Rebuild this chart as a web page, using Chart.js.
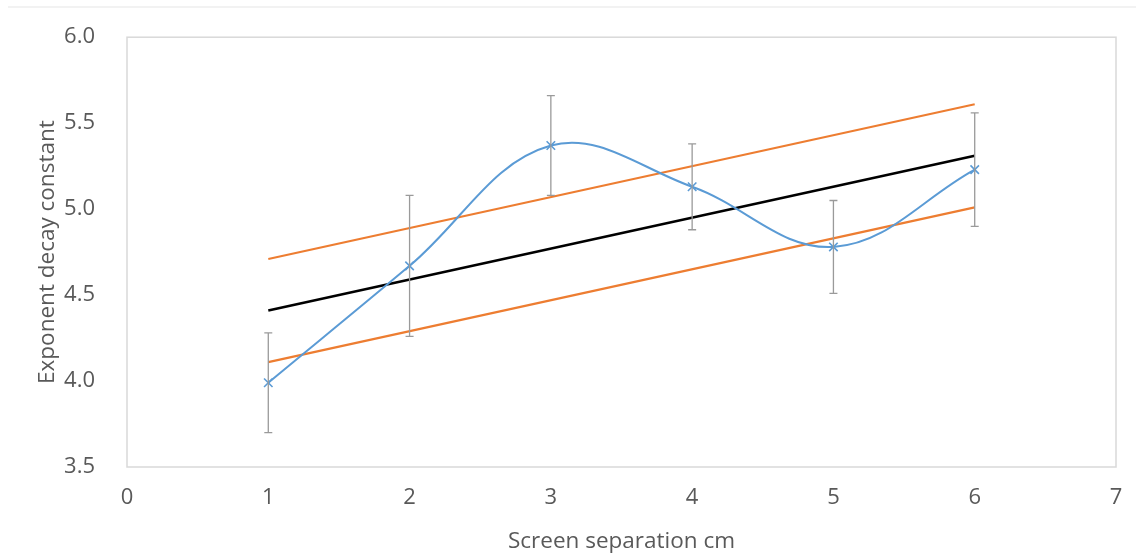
<!DOCTYPE html>
<html>
<head>
<meta charset="utf-8">
<script src="https://cdn.jsdelivr.net/npm/chart.js@4/dist/chart.umd.min.js"></script>
<style>
    html, body { margin: 0; padding: 0; background: #fff; }
    #wrap { position: relative; width: 1136px; height: 555px; }
    #topline { position: absolute; left: 8px; right: 0; top: 6px; height: 2px; background: #f2f2f2; }
</style>
</head>
<body>
<div id="wrap">
    <div id="topline"></div>
    <canvas id="decayChart" width="1136" height="555"></canvas>
</div>
<script>
// Measured points (screen separation vs exponent decay constant)
const separation = [1, 2, 3, 4, 5, 6];
const decayConst = [3.99, 4.67, 5.37, 5.13, 4.78, 5.23];
const decayErr = [0.29, 0.41, 0.29, 0.25, 0.27, 0.33];

// Fit line and its bounds
const fitX = [1, 6];
const fitY = [4.41, 5.31];
const upperY = [4.71, 5.61];
const lowerY = [4.11, 5.01];

const xTicks = [0, 1, 2, 3, 4, 5, 6, 7];
const yTicks = [3.5, 4.0, 4.5, 5.0, 5.5, 6.0];

const toPoints = (xs, ys) => xs.map((x, i) => ({ x: x, y: ys[i] }));

Chart.defaults.font.family = "'Open Sans', sans-serif";
Chart.defaults.color = '#595959';

// Plot frame + error bars
const frameAndErrors = {
    id: 'frameAndErrors',
    beforeDatasetsDraw: (chart) => {
        const { ctx, chartArea: a } = chart;
        ctx.save();
        ctx.strokeStyle = '#d9d9d9';
        ctx.lineWidth = 1.5;
        ctx.strokeRect(a.left, a.top, a.right - a.left, a.bottom - a.top);
        ctx.restore();
    },
    afterDatasetsDraw: (chart) => {
        const { ctx, scales } = chart;
        const xs = scales.x, ys = scales.y;
        ctx.save();
        ctx.strokeStyle = '#9a9a9a';
        ctx.lineWidth = 1.3;
        separation.forEach((sx, i) => {
            const px = xs.getPixelForValue(sx);
            const top = ys.getPixelForValue(decayConst[i] + decayErr[i]);
            const bot = ys.getPixelForValue(decayConst[i] - decayErr[i]);
            ctx.beginPath();
            ctx.moveTo(px, top); ctx.lineTo(px, bot);
            ctx.moveTo(px - 4, top); ctx.lineTo(px + 4, top);
            ctx.moveTo(px - 4, bot); ctx.lineTo(px + 4, bot);
            ctx.stroke();
        });
        ctx.restore();
    }
};

new Chart(document.getElementById('decayChart'), {
    type: 'scatter',
    data: {
        datasets: [
            {
                label: 'Decay constant',
                data: toPoints(separation, decayConst),
                showLine: true,
                tension: 0.38,
                borderColor: '#5b9bd5',
                borderWidth: 2,
                pointStyle: 'crossRot',
                pointRadius: 6,
                pointBorderWidth: 1.6,
                pointBorderColor: '#5b9bd5',
                pointBackgroundColor: '#5b9bd5'
            },
            {
                label: 'Fit',
                data: toPoints(fitX, fitY),
                showLine: true,
                borderColor: '#000000',
                borderWidth: 2.6,
                pointRadius: 0
            },
            {
                label: 'Upper',
                data: toPoints(fitX, upperY),
                showLine: true,
                borderColor: '#ed7d31',
                borderWidth: 2.2,
                pointRadius: 0
            },
            {
                label: 'Lower',
                data: toPoints(fitX, lowerY),
                showLine: true,
                borderColor: '#ed7d31',
                borderWidth: 2.2,
                pointRadius: 0
            }
        ]
    },
    options: {
        responsive: false,
        animation: false,
        layout: { padding: { top: 34, right: 20, left: 0, bottom: 0 } },
        plugins: {
            legend: { display: false },
            tooltip: { enabled: false }
        },
        scales: {
            x: {
                type: 'linear',
                min: 0,
                max: 7,
                afterBuildTicks: (axis) => { axis.ticks = xTicks.map(v => ({ value: v })); },
                afterFit: (axis) => { axis.height = 88; },
                grid: { display: false },
                border: { display: false },
                ticks: { padding: 10, font: { size: 22 }, color: '#595959' },
                title: {
                    display: true,
                    text: 'Screen separation cm',
                    font: { size: 22.5 },
                    color: '#595959',
                    padding: { top: 0, bottom: 0 }
                }
            },
            y: {
                min: 3.5,
                max: 6.0,
                afterBuildTicks: (axis) => { axis.ticks = yTicks.map(v => ({ value: v })); },
                afterFit: (axis) => { axis.width = 127; },
                grid: { display: false },
                border: { display: false },
                ticks: {
                    padding: 24,
                    font: { size: 22 },
                    color: '#595959',
                    callback: (v) => Number(v).toFixed(1)
                },
                title: {
                    display: true,
                    text: 'Exponent decay constant',
                    font: { size: 22.5 },
                    color: '#595959',
                    padding: { top: 34, bottom: 0 }
                }
            }
        }
    },
    plugins: [frameAndErrors]
});
</script>
</body>
</html>
